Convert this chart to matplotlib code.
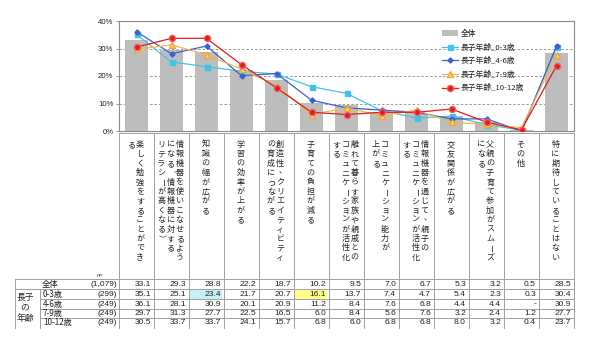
import matplotlib
matplotlib.use('Agg')
import matplotlib.pyplot as plt
import numpy as np

plt.rcParams['font.family'] = ['Noto Sans CJK JP', 'DejaVu Sans']

# ---------------- data ----------------
categories = [
    ["楽しく勉強をすることができ", "る"],
    ["情報機器を使いこなせるよう", "になる（情報機器に対する", "リテラシーが高くなる）"],
    ["知識の幅が広がる"],
    ["学習の効率が上がる"],
    ["創造性、クリエイティビティ", "の育成につながる"],
    ["子育ての負担が減る"],
    ["離れて暮らす家族や親戚との", "コミュニケーションが活性化", "する"],
    ["コミュニケーション能力が", "上がる"],
    ["情報機器を通じて、親子の", "コミュニケーションが活性化", "する"],
    ["交友関係が広がる"],
    ["父親の子育て参加がスムーズ", "になる"],
    ["その他"],
    ["特に期待していることはない"],
]
total = [33.1, 29.3, 28.8, 22.2, 18.7, 10.2, 9.5, 7.0, 6.7, 5.3, 3.2, 0.5, 28.5]
age_0_3 = [35.1, 25.1, 23.4, 21.7, 20.7, 16.1, 13.7, 7.4, 4.7, 5.4, 2.3, 0.3, 30.4]
age_4_6 = [36.1, 28.1, 30.9, 20.1, 20.9, 11.2, 8.4, 7.6, 6.8, 4.4, 4.4, None, 30.9]
age_7_9 = [29.7, 31.3, 27.7, 22.5, 16.5, 6.0, 8.4, 5.6, 7.6, 3.2, 2.4, 1.2, 27.7]
age_10_12 = [30.5, 33.7, 33.7, 24.1, 15.7, 6.8, 6.0, 6.8, 6.8, 8.0, 3.2, 0.4, 23.7]

series_labels = ["長子年齢_0-3歳", "長子年齢_4-6歳", "長子年齢_7-9歳", "長子年齢_10-12歳"]
row_labels = ["0-3歳", "4-6歳", "7-9歳", "10-12歳"]
n_values = ["(1,079)", "(299)", "(249)", "(249)", "(249)"]
y_ticks = [0, 10, 20, 30, 40]

# ---------------- figure ----------------
W, H = 600, 349
fig = plt.figure(figsize=(W / 100, H / 100), dpi=100)
fig.patch.set_facecolor('white')

ov = fig.add_axes([0, 0, 1, 1])
ov.set_xlim(0, W)
ov.set_ylim(H, 0)
ov.axis('off')

px_left, px_right, px_top, px_bottom = 119, 574, 21, 131
ax = fig.add_axes([px_left / W, 1 - px_bottom / H, (px_right - px_left) / W,
                   (px_bottom - px_top) / H])
n = len(total)
x = np.arange(n)
ax.set_xlim(-0.5, n - 0.5)
ax.set_ylim(0, 40)

for yv in y_ticks[1:-1]:
    ax.axhline(yv, color='#9a9a9a', lw=0.7, ls=(0, (2.5, 2)), zorder=1)

bar_h = ax.bar(x, total, width=0.65, color='#bdbdbd', zorder=2, label="全体")

def vals(s):
    return [0 if v is None else v for v in s]

styles = [
    dict(color='#41c3e6', marker='s', ms=3.6, mfc='#41c3e6', mec='#41c3e6'),
    dict(color='#3f5fcf', marker='D', ms=2.6, mfc='#3f5fcf', mec='#3f5fcf'),
    dict(color='#f3b648', marker='^', ms=4.0, mfc='#f8d27c', mec='#f3a830'),
    dict(color='#e01c1c', marker='o', ms=4.4, mfc='#e01c1c', mec='#f06060'),
]
line_handles = []
for s, lab, st in zip([age_0_3, age_4_6, age_7_9, age_10_12], series_labels, styles):
    h, = ax.plot(x, vals(s), lw=0.9, zorder=3, label=lab, **st)
    line_handles.append(h)

ax.set_xticks([])
ax.set_yticks(y_ticks)
ax.set_yticklabels([f"{v}%" for v in y_ticks], fontsize=5.6, family='Liberation Sans', color='#222222')
ax.tick_params(axis='y', length=2, width=0.6, color='#888888', pad=2)
for sp in ['top', 'right', 'left', 'bottom']:
    ax.spines[sp].set_color('#8a8a8a')
    ax.spines[sp].set_linewidth(0.8)

ax.legend([bar_h] + line_handles, ["全体"] + series_labels,
          loc='upper left', bbox_to_anchor=(438 / W, 1 - 26 / H),
          bbox_transform=fig.transFigure, frameon=False, fontsize=5.6,
          handlelength=2.1, handletextpad=0.3, labelspacing=0.72, borderpad=0,
          labelcolor='#222222')

# ---------------- category labels (vertical) ----------------
col_w = (px_right - px_left) / n
line_col = '#a0a0a0'
lab_top = 133
tbl_bot = 328
row_y = [279, 289, 299, 309, 318, 328]

ov.plot([px_left, px_right], [lab_top, lab_top], color=line_col, lw=0.7)
for k in range(n + 1):
    xx = px_left + k * col_w
    ov.plot([xx, xx], [lab_top, tbl_bot], color=line_col, lw=0.7)

pitch_y = 9.4
pitch_x = 9.2
rot_chars = set("ー（）")
for i, cols in enumerate(categories):
    cx = px_left + (i + 0.5) * col_w - 1
    m = len(cols)
    for j, colstr in enumerate(cols):
        xc = cx + (m - 1) / 2 * pitch_x - j * pitch_x
        for k, ch in enumerate(colstr):
            yc = 144.5 + k * pitch_y
            rot = 0
            dx = dy = 0
            if ch in rot_chars:
                rot = -90
            if ch in "、。":
                dx, dy = 2.5, -1.5
            ov.text(xc + dx, yc + dy, ch, fontsize=5.8, ha='center', va='center',
                    rotation=rot, color='#222222')

# ---------------- table ----------------
# highlighted cells: (row index, column index, colour)
hl = [(1, 2, '#c4f0f6'), (1, 5, '#ffff88')]
for r, c, colr in hl:
    x0 = px_left + c * col_w + 1
    ov.add_patch(plt.Rectangle((x0, row_y[r] + 0.5), col_w - 3, row_y[r + 1] - row_y[r] - 1,
                               color=colr, lw=0, zorder=0))

ov.plot([15, px_right], [row_y[0], row_y[0]], color=line_col, lw=0.7)
ov.plot([15, px_right], [row_y[1], row_y[1]], color=line_col, lw=0.7)
for yy in row_y[2:5]:
    ov.plot([40, px_right], [yy, yy], color=line_col, lw=0.7)
ov.plot([15, 15], [row_y[0], tbl_bot], color=line_col, lw=0.7)
ov.plot([40, 40], [row_y[1], tbl_bot], color=line_col, lw=0.7)

ov.text(100, 275.5, "n=", fontsize=4.2, ha='center', va='center', family='Liberation Sans', color='#333333')
ov.text(50, (row_y[0] + row_y[1]) / 2, "全体", fontsize=6, ha='center', va='center', color='#222222')
for t, yy in zip(["長子", "の", "年齢"], [297.5, 307.5, 318]):
    ov.text(25, yy, t, fontsize=6.3, ha='center', va='center', color='#222222')
for r, lab in enumerate(row_labels):
    ov.text(43, (row_y[r + 1] + row_y[r + 2]) / 2, lab, fontsize=5.8, ha='left', va='center',
            color='#222222')

rows = [total, age_0_3, age_4_6, age_7_9, age_10_12]
for r, (row, nv) in enumerate(zip(rows, n_values)):
    yc = (row_y[r] + row_y[r + 1]) / 2
    ov.text(117, yc, nv, fontsize=6, ha='right', va='center', family='Liberation Sans', color='#222222')
    for c, v in enumerate(row):
        s = '-' if v is None else f"{v:.1f}"
        ov.text(px_left + (c + 1) * col_w - 3, yc, s, fontsize=6.1, ha='right', va='center',
                family='Liberation Sans', color='#222222')

fig.savefig('out.png', dpi=100, facecolor='white')
